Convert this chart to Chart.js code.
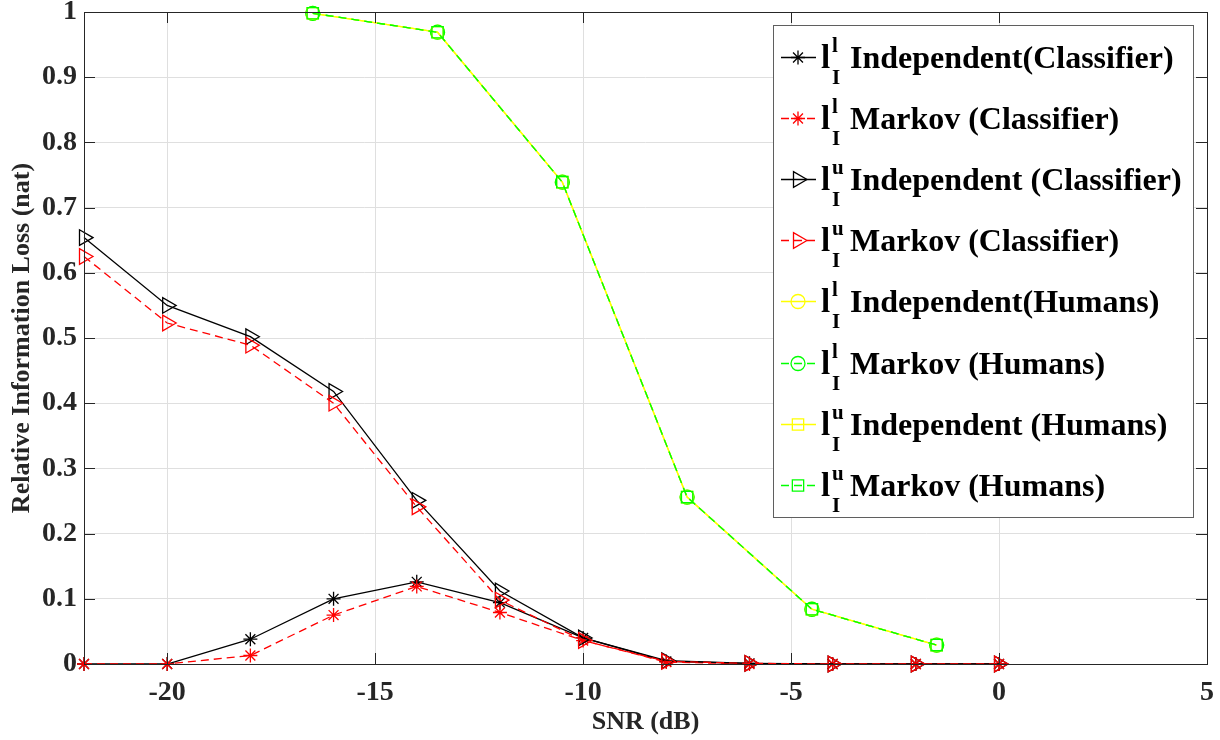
<!DOCTYPE html>
<html lang="en">
<head>
    <meta charset="UTF-8">
    <title>Relative Information Loss vs SNR</title>
    <style>
        body {
            margin: 0;
            background-color: white;
        }
        canvas {
            display: block;
        }
    </style>
</head>
<body>
    <canvas id="lossChart" width="1220" height="740"></canvas>

    <script src="https://cdn.jsdelivr.net/npm/chart.js"></script>
    <script>
        // Data
        const snrClassifier = [-22, -20, -18, -16, -14, -12, -10, -8, -6, -4, -2, 0];
        const lowerIndepClassifier = [0, 0, 0.038, 0.1, 0.126, 0.094, 0.04, 0.004, 0.001, 0, 0, 0];
        const lowerMarkovClassifier = [0, 0, 0.013, 0.075, 0.119, 0.079, 0.036, 0.003, 0, 0, 0, 0];
        const upperIndepClassifier = [0.654, 0.55, 0.502, 0.418, 0.251, 0.112, 0.04, 0.005, 0.001, 0, 0, 0];
        const upperMarkovClassifier = [0.625, 0.523, 0.489, 0.4, 0.241, 0.098, 0.036, 0.004, 0.001, 0, 0, 0];

        const snrHumans = [-16.5, -13.5, -10.5, -7.5, -4.5, -1.5];
        const lowerIndepHumans = [0.998, 0.969, 0.739, 0.256, 0.084, 0.029];
        const lowerMarkovHumans = [0.998, 0.969, 0.739, 0.256, 0.084, 0.029];
        const upperIndepHumans = [0.998, 0.969, 0.739, 0.256, 0.084, 0.029];
        const upperMarkovHumans = [0.998, 0.969, 0.739, 0.256, 0.084, 0.029];

        const xTicks = [-20, -15, -10, -5, 0, 5];
        const yTicks = [0, 0.1, 0.2, 0.3, 0.4, 0.5, 0.6, 0.7, 0.8, 0.9, 1];

        const legendSup = ['l', 'l', 'u', 'u', 'l', 'l', 'u', 'u'];
        const legendText = [
            'Independent(Classifier)',
            'Markov (Classifier)',
            'Independent (Classifier)',
            'Markov (Classifier)',
            'Independent(Humans)',
            'Markov (Humans)',
            'Independent (Humans)',
            'Markov (Humans)'
        ];

        const SERIF = '"Liberation Serif", "Times New Roman", serif';
        const AXIS_COLOR = '#262626';

        function toPoints(xs, ys) {
            return xs.map((x, i) => ({ x: x, y: ys[i] }));
        }

        function series(xs, ys, color, dash, style, radius, rotation) {
            return {
                data: toPoints(xs, ys),
                borderColor: color,
                backgroundColor: 'transparent',
                borderWidth: 1.3,
                borderDash: dash,
                pointStyle: style,
                pointRadius: radius,
                pointRotation: rotation || 0,
                pointBorderColor: color,
                pointBackgroundColor: 'transparent',
                pointBorderWidth: 1.3,
                pointHoverRadius: radius,
                tension: 0,
                clip: false
            };
        }

        const datasets = [
            series(snrClassifier, lowerIndepClassifier, '#000000', [], 'star', 7),
            series(snrClassifier, lowerMarkovClassifier, '#ff0000', [8, 5], 'star', 7),
            series(snrClassifier, upperIndepClassifier, '#000000', [], 'triangle', 9, 90),
            series(snrClassifier, upperMarkovClassifier, '#ff0000', [8, 5], 'triangle', 9, 90),
            series(snrHumans, lowerIndepHumans, '#ffff00', [], 'circle', 7),
            series(snrHumans, lowerMarkovHumans, '#00ff00', [8, 5], 'circle', 7),
            series(snrHumans, upperIndepHumans, '#ffff00', [], 'rect', 8),
            series(snrHumans, upperMarkovHumans, '#00ff00', [8, 5], 'rect', 8)
        ];
        // later series are drawn on top, like the original plot
        datasets.forEach((d, i) => { d.order = datasets.length - i; });

        // box around the axes and the inward tick marks
        const axesBox = {
            id: 'axesBox',
            afterDatasetsDraw(chart) {
                const { ctx, chartArea: a, scales } = chart;
                ctx.save();
                ctx.strokeStyle = AXIS_COLOR;
                ctx.lineWidth = 1;
                ctx.setLineDash([]);
                ctx.strokeRect(a.left + 0.5, a.top + 0.5, a.right - a.left, a.bottom - a.top);
                ctx.beginPath();
                xTicks.forEach(v => {
                    const px = Math.round(scales.x.getPixelForValue(v)) + 0.5;
                    ctx.moveTo(px, a.bottom);
                    ctx.lineTo(px, a.bottom - 11);
                    ctx.moveTo(px, a.top);
                    ctx.lineTo(px, a.top + 11);
                });
                yTicks.forEach(v => {
                    const py = Math.round(scales.y.getPixelForValue(v)) + 0.5;
                    ctx.moveTo(a.left, py);
                    ctx.lineTo(a.left + 11, py);
                    ctx.moveTo(a.right, py);
                    ctx.lineTo(a.right - 11, py);
                });
                ctx.stroke();
                ctx.restore();
            }
        };

        // legend with l^l_I / l^u_I labels
        const texLegend = {
            id: 'texLegend',
            afterDraw(chart) {
                const ctx = chart.ctx;
                const boxLeft = 773, boxTop = 25, boxRight = 1193, boxBottom = 517;
                const rowTop = 57, rowStep = 61.1;
                ctx.save();
                ctx.fillStyle = '#ffffff';
                ctx.fillRect(boxLeft, boxTop, boxRight - boxLeft, boxBottom - boxTop);
                ctx.strokeStyle = '#5f5f5f';
                ctx.lineWidth = 1;
                ctx.strokeRect(boxLeft + 0.5, boxTop + 0.5, boxRight - boxLeft, boxBottom - boxTop);

                datasets.forEach((d, i) => {
                    const y = Math.round(rowTop + i * rowStep) + 0.5;
                    ctx.save();
                    ctx.strokeStyle = d.borderColor;
                    ctx.lineWidth = d.borderWidth;
                    ctx.setLineDash(d.borderDash);
                    ctx.beginPath();
                    ctx.moveTo(781, y);
                    ctx.lineTo(816, y);
                    ctx.stroke();
                    ctx.setLineDash([]);
                    ctx.strokeStyle = d.pointBorderColor;
                    ctx.fillStyle = 'transparent';
                    Chart.helpers.drawPoint(ctx, {
                        pointStyle: d.pointStyle,
                        radius: d.pointRadius,
                        rotation: d.pointRotation,
                        borderWidth: d.pointBorderWidth
                    }, 798, y);
                    ctx.restore();

                    ctx.fillStyle = '#000000';
                    ctx.textBaseline = 'alphabetic';
                    ctx.textAlign = 'left';
                    ctx.font = 'bold 33px ' + SERIF;
                    ctx.fillText('l', 821, y + 10);
                    ctx.font = 'bold 21px ' + SERIF;
                    ctx.fillText(legendSup[i], 832, y - 6);
                    ctx.fillText('I', 832, y + 26);
                    ctx.font = 'bold 32px ' + SERIF;
                    ctx.fillText(legendText[i], 850, y + 10);
                });
                ctx.restore();
            }
        };

        new Chart(document.getElementById('lossChart'), {
            type: 'line',
            data: { datasets: datasets },
            options: {
                responsive: false,
                animation: false,
                events: [],
                layout: { padding: { top: 12, right: 13, left: 0, bottom: 0 } },
                plugins: {
                    legend: { display: false },
                    tooltip: { enabled: false }
                },
                scales: {
                    x: {
                        type: 'linear',
                        min: -22,
                        max: 5,
                        afterBuildTicks: scale => { scale.ticks = xTicks.map(v => ({ value: v })); },
                        afterFit: scale => {
                            scale.height = 76;
                            scale.paddingLeft = 0;
                            scale.paddingRight = 0;
                        },
                        border: { display: false },
                        grid: { color: '#dfdfdf', lineWidth: 1, drawTicks: false },
                        ticks: {
                            color: AXIS_COLOR,
                            padding: 12,
                            maxRotation: 0,
                            font: { family: SERIF, size: 28, weight: 'bold' },
                            callback: v => String(v)
                        },
                        title: {
                            display: true,
                            text: 'SNR (dB)',
                            color: AXIS_COLOR,
                            padding: { top: 0, bottom: 2 },
                            font: { family: SERIF, size: 26, weight: 'bold' }
                        }
                    },
                    y: {
                        type: 'linear',
                        min: 0,
                        max: 1,
                        afterBuildTicks: scale => { scale.ticks = yTicks.map(v => ({ value: v })); },
                        afterFit: scale => {
                            scale.width = 84;
                            scale.paddingTop = 0;
                            scale.paddingBottom = 0;
                        },
                        border: { display: false },
                        grid: { color: '#dfdfdf', lineWidth: 1, drawTicks: false },
                        ticks: {
                            color: AXIS_COLOR,
                            padding: 7,
                            font: { family: SERIF, size: 28, weight: 'bold' },
                            callback: v => String(Math.round(v * 10) / 10)
                        },
                        title: {
                            display: true,
                            text: 'Relative Information Loss (nat)',
                            color: AXIS_COLOR,
                            padding: { top: 7, bottom: 0 },
                            font: { family: SERIF, size: 26, weight: 'bold' }
                        }
                    }
                }
            },
            plugins: [axesBox, texLegend]
        });
    </script>
</body>
</html>
